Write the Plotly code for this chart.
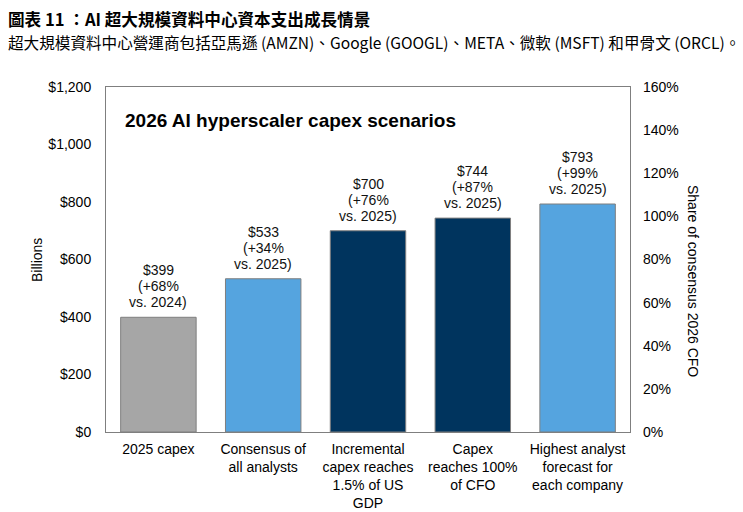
import plotly.graph_objects as go

categories = ["2025 capex", "Consensus of<br>all analysts", "Incremental<br>capex reaches<br>1.5% of US<br>GDP",
              "Capex<br>reaches 100%<br>of CFO", "Highest analyst<br>forecast for<br>each company"]
values = [399, 533, 700, 744, 793]
label_lines = [["$399", "(+68%", "vs. 2024)"], ["$533", "(+34%", "vs. 2025)"], ["$700", "(+76%", "vs. 2025)"],
               ["$744", "(+87%", "vs. 2025)"], ["$793", "(+99%", "vs. 2025)"]]
colors = ["#A6A6A6", "#55A4DF", "#00345E", "#00345E", "#55A4DF"]
left_ticks = [0, 200, 400, 600, 800, 1000, 1200]
left_ticktext = ["$0", "$200", "$400", "$600", "$800", "$1,000", "$1,200"]
right_ticks = [0, 20, 40, 60, 80, 100, 120, 140, 160]
right_ticktext = [f"{v}%" for v in right_ticks]

FONT = "Liberation Sans, Arial, sans-serif"
CJK = "Noto Sans CJK TC, sans-serif"
L, R, T, B = 106, 113, 87, 80
PW, PH = 743 - L - R, 512 - T - B

fig = go.Figure()
fig.add_trace(go.Bar(
    x=categories, y=values,
    marker=dict(color=colors, line=dict(color="#7F7F7F", width=1)),
    width=0.72, hoverinfo="skip", showlegend=False,
))
fig.add_trace(go.Scatter(x=[categories[0], categories[-1]], y=[0, 160], yaxis="y2",
                         mode="markers", marker=dict(opacity=0), showlegend=False, hoverinfo="skip"))

for c, v, lines in zip(categories, values, label_lines):
    n = len(lines)
    for i, line in enumerate(lines):
        fig.add_annotation(x=c, y=v, text=line, showarrow=False, yanchor="middle",
                           yshift=15 + 16 * (n - 1 - i),
                           font=dict(family=FONT, size=14, color="#111111"))

fig.add_annotation(xref="paper", yref="paper", x=17 / PW, y=1 - (120 - T) / PH, xanchor="left", yanchor="middle",
                   text="<b>2026 AI hyperscaler capex scenarios</b>", showarrow=False,
                   font=dict(family=FONT, size=19, color="#000000"))

fig.add_annotation(xref="paper", yref="paper", x=(693 - L) / PW, y=1 - (281 - T) / PH, textangle=90,
                   xanchor="center", yanchor="middle",
                   text="Share of consensus 2026 CFO", showarrow=False,
                   font=dict(family=FONT, size=14, color="#000000"))

fig.add_annotation(xref="paper", yref="paper", x=(37 - L) / PW, y=1 - (260 - T) / PH, textangle=-90,
                   xanchor="center", yanchor="middle",
                   text="Billions", showarrow=False,
                   font=dict(family=FONT, size=14, color="#000000"))

fig.add_annotation(xref="paper", yref="paper", x=(6 - L) / PW, y=1 + (T - 19) / PH,
                   xanchor="left", yanchor="middle", showarrow=False,
                   text="<b>圖表 11 ：AI 超大規模資料中心資本支出成長情景</b>",
                   font=dict(family=CJK, size=16.6, color="#000000"))

fig.add_annotation(xref="paper", yref="paper", x=(6 - L) / PW, y=1 + (T - 42) / PH,
                   xanchor="left", yanchor="middle", showarrow=False,
                   text="超大規模資料中心營運商包括亞馬遜 (AMZN)、Google (GOOGL)、META、微軟 (MSFT) 和甲骨文 (ORCL)。",
                   font=dict(family=CJK, size=15.6, color="#000000"))

fig.update_layout(
    width=743, height=512,
    margin=dict(l=L, r=R, t=T, b=B, autoexpand=False),
    paper_bgcolor="white", plot_bgcolor="white",
    font=dict(family=FONT, size=14, color="#000000"),
    bargap=0.28,
    xaxis=dict(showline=True, linecolor="#7F7F7F", linewidth=1, mirror=True, ticks="",
               tickfont=dict(family=FONT, size=14), showgrid=False, automargin=False,
               ticklabelstandoff=4),
    yaxis=dict(range=[0, 1200], tickvals=left_ticks, ticktext=left_ticktext, showgrid=False,
               showline=True, linecolor="#7F7F7F", linewidth=1, mirror=True, ticks="",
               ticklabelstandoff=11, zeroline=False, automargin=False),
    yaxis2=dict(range=[0, 160], tickvals=right_ticks, ticktext=right_ticktext, overlaying="y",
                side="right", showgrid=False, ticks="", ticklabelstandoff=12, zeroline=False,
                showline=False, automargin=False),
)

fig.write_html("out.html", config={"displayModeBar": False},
               post_script="document.body.style.margin='0';document.body.style.overflow='hidden';")
